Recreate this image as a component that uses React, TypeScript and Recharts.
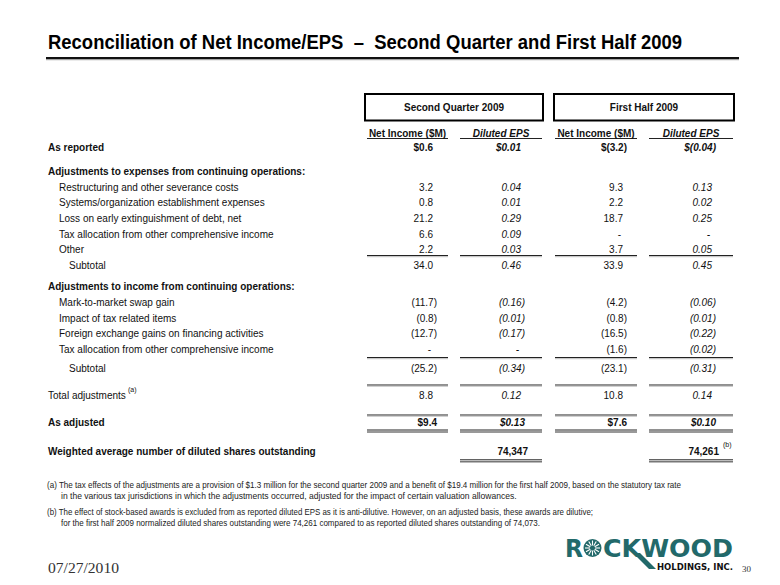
import React from 'react'
import { ScatterChart, Scatter, XAxis, YAxis, ReferenceLine, ReferenceArea } from 'recharts'

const W = 780
const H = 585
const FONT = "'Liberation Sans', Arial, Helvetica, sans-serif"
const NARROW = "'Liberation Sans Narrow', 'Arial Narrow', 'Liberation Sans', Arial, sans-serif"
const TEAL = '#22696a'

// row labels of the table
const rowLabels = [
  'As reported',
  'Adjustments to expenses from continuing operations:',
  'Restructuring and other severance costs',
  'Systems/organization establishment expenses',
  'Loss on early extinguishment of debt, net',
  'Tax allocation from other comprehensive income',
  'Other',
  'Subtotal',
  'Adjustments to income from continuing operations:',
  'Mark-to-market swap gain',
  'Impact of tax related items',
  'Foreign exchange gains on financing activities',
  'Tax allocation from other comprehensive income',
  'Subtotal',
  'Total adjustments',
  'As adjusted',
  'Weighted average number of diluted shares outstanding',
]
const rowLevels = [0, 0, 1, 1, 1, 1, 1, 2, 0, 1, 1, 1, 1, 2, 0, 0, 0]
const rowBold = [1, 1, 0, 0, 0, 0, 0, 0, 1, 0, 0, 0, 0, 0, 0, 1, 1]
const dollarRows = [0, 15]

// values (undefined = empty cell, null = "-")
const q2NetIncome = [0.6, undefined, 3.2, 0.8, 21.2, 6.6, 2.2, 34.0, undefined, -11.7, -0.8, -12.7, null, -25.2, 8.8, 9.4, undefined]
const q2Eps = [0.01, undefined, 0.04, 0.01, 0.29, 0.09, 0.03, 0.46, undefined, -0.16, -0.01, -0.17, null, -0.34, 0.12, 0.13, undefined]
const h1NetIncome = [-3.2, undefined, 9.3, 2.2, 18.7, null, 3.7, 33.9, undefined, -4.2, -0.8, -16.5, -1.6, -23.1, 10.8, 7.6, undefined]
const h1Eps = [-0.04, undefined, 0.13, 0.02, 0.25, null, 0.05, 0.45, undefined, -0.06, -0.01, -0.22, -0.02, -0.31, 0.14, 0.1, undefined]
const dilutedShares = [74347, 74261]

const periodHeaders = ['Second Quarter 2009', 'First Half 2009']
const columnHeaders = ['Net Income ($M)', 'Diluted EPS', 'Net Income ($M)', 'Diluted EPS']

// layout only
const ROW_GAPS = [147, 24.5, 15.5, 15.5, 15.5, 16, 15.5, 15.5, 21.5, 16, 15.5, 15.5, 16, 19, 27, 27, 28.5]
const rowY = ROW_GAPS.reduce<number[]>((acc, g, i) => [...acc, (i ? acc[i - 1] : 0) + g], [])
const LABEL_X = [48, 59, 69]
const COLS = [
  { span: [367, 448], right: 437, dec: 1, italic: false, values: q2NetIncome },
  { span: [460, 542], right: 525, dec: 2, italic: true, values: q2Eps },
  { span: [555, 637], right: 627, dec: 1, italic: false, values: h1NetIncome },
  { span: [649, 733], right: 716, dec: 2, italic: true, values: h1Eps },
]
const BOXES = [
  [365, 543],
  [554, 734],
]
const RULES = [255.5, 357.5, 385, 415]

const fmt = (v: number, dec: number, dollar: boolean) => {
  const s = v < 0 ? `(${Math.abs(v).toFixed(dec)})` : Math.abs(v).toFixed(dec)
  return dollar ? '$' + s : s
}

const LabelCell = (p: any) => (
  <text x={p.cx} y={p.cy} dy='0.35em' fontSize={10} fontFamily={FONT} fontWeight={p.payload.bold ? 700 : 400} fill='#111'>
    {p.payload.text}
  </text>
)

const HeaderCell = (p: any) => (
  <text x={p.cx} y={p.cy} dy='0.35em' textAnchor='middle' fontSize={10} fontFamily={FONT} fontWeight={700} fontStyle={p.payload.italic ? 'italic' : 'normal'} fill='#111'>
    {p.payload.text}
  </text>
)

const ValueCell = (p: any) => {
  const { cx, cy, payload } = p
  const { v, dec, italic, row } = payload
  const bold = !!rowBold[row]
  let txt = '-'
  let x = cx - 6
  if (v !== null) {
    txt = fmt(v, dec, dollarRows.includes(row))
    x = v < 0 || row === 15 ? cx : cx - 4
  }
  return (
    <text x={x} y={cy} dy='0.35em' textAnchor='end' fontSize={10} fontFamily={FONT} fontWeight={bold ? 700 : 400} fontStyle={italic ? 'italic' : 'normal'} fill='#111'>
      {txt}
    </text>
  )
}

const SharesCell = (p: any) => (
  <text x={p.cx} y={p.cy} dy='0.35em' textAnchor='end' fontSize={10} fontFamily={FONT} fontWeight={700} fill='#111'>
    {p.payload.v.toLocaleString('en-US')}
  </text>
)

const Seg = ({ x1, x2, y, w = 1.2, c = '#222' }: any) => (
  <ReferenceLine segment={[{ x: x1, y }, { x: x2, y }]} stroke={c} strokeWidth={w} ifOverflow='visible' />
)

export default function App() {
  const labelData = rowLabels.map((t, i) => ({ x: LABEL_X[rowLevels[i]], y: rowY[i], text: t, bold: !!rowBold[i] }))
  const headerData = columnHeaders.map((t, i) => ({
    x: (COLS[i].span[0] + COLS[i].span[1]) / 2,
    y: 133,
    text: t,
    italic: COLS[i].italic,
  }))
  const sharesData = dilutedShares.map((v, i) => ({ x: COLS[i * 2 + 1].right + 3, y: rowY[16], v }))

  const segs: any[] = []
  COLS.forEach((c, ci) => {
    segs.push(<Seg key={`h${ci}`} x1={c.span[0]} x2={c.span[1]} y={138.5} w={1} />)
    RULES.forEach((y, ri) => {
      segs.push(<Seg key={`r${ci}-${ri}`} x1={c.span[0]} x2={c.span[1]} y={y} />)
      segs.push(<Seg key={`s${ci}-${ri}`} x1={c.span[0]} x2={c.span[1]} y={y + 1.2} w={0.8} c='#aaa' />)
    })
    segs.push(<Seg key={`d1${ci}`} x1={c.span[0]} x2={c.span[1]} y={430} w={1} />)
    segs.push(<Seg key={`d2${ci}`} x1={c.span[0]} x2={c.span[1]} y={432} w={1.6} c='#777' />)
    if (ci % 2 === 1) {
      segs.push(<Seg key={`e1${ci}`} x1={c.span[0]} x2={c.span[1]} y={459.8} w={1} />)
      segs.push(<Seg key={`e2${ci}`} x1={c.span[0]} x2={c.span[1]} y={461.8} w={1.6} c='#777' />)
    }
  })

  const spokes = Array.from({ length: 12 }, (_, i) => (i * Math.PI) / 6)

  return (
    <div style={{ position: 'absolute', left: 0, top: 0, width: W, height: H, background: '#fff' }}>
      <ScatterChart width={W} height={H} margin={{ top: 0, right: 0, bottom: 0, left: 0 }}>
        <XAxis type='number' dataKey='x' domain={[0, W]} allowDataOverflow hide />
        <YAxis type='number' dataKey='y' domain={[0, H]} allowDataOverflow reversed hide />
        {BOXES.map((b, i) => (
          <ReferenceArea
            key={`box${i}`}
            x1={b[0]}
            x2={b[1]}
            y1={94}
            y2={120.5}
            fill='#fff'
            fillOpacity={1}
            stroke='#000'
            strokeWidth={2}
            ifOverflow='visible'
            label={{ value: periodHeaders[i], position: 'center', fill: '#111', fontSize: 10, fontWeight: 700, fontFamily: FONT }}
          />
        ))}
        {segs}
        <Scatter data={headerData} shape={(p: any) => <HeaderCell {...p} />} isAnimationActive={false} />
        <Scatter data={labelData} shape={(p: any) => <LabelCell {...p} />} isAnimationActive={false} />
        {COLS.map((c, ci) => (
          <Scatter
            key={`col${ci}`}
            data={rowY
              .map((y, i) => ({ x: c.right, y, v: c.values[i], dec: c.dec, italic: c.italic, row: i }))
              .filter((d) => d.v !== undefined)}
            shape={(p: any) => <ValueCell {...p} />}
            isAnimationActive={false}
          />
        ))}
        <Scatter data={sharesData} shape={(p: any) => <SharesCell {...p} />} isAnimationActive={false} />
      </ScatterChart>

      <svg width={W} height={H} style={{ position: 'absolute', left: 0, top: 0, pointerEvents: 'none' }}>
        <text
          x={48}
          y={49}
          fontSize={19.5}
          fontWeight={700}
          fontFamily={NARROW}
          textLength={634}
          lengthAdjust='spacingAndGlyphs'
          style={{ whiteSpace: 'pre' }}
          fill='#000'
        >
          {'Reconciliation of Net Income/EPS  –  Second Quarter and First Half 2009'}
        </text>
        <rect x={46} y={57} width={693} height={2.2} fill='#111' />
        <rect x={46} y={59.2} width={693} height={1} fill='#9a9a9a' />

        <text x={128} y={392} fontSize={7} fontFamily={FONT} fill='#111'>(a)</text>
        <text x={723} y={447} fontSize={7} fontFamily={FONT} fill='#111'>(b)</text>

        <g fontSize={8.55} fontFamily={NARROW} fill='#222'>
          <text x={47} y={488} textLength={634} lengthAdjust='spacingAndGlyphs'>
            (a) The tax effects of the adjustments are a provision of $1.3 million for the second quarter 2009 and a benefit of $19.4 million for the first half 2009, based on the statutory tax rate
          </text>
          <text x={61} y={499}>
            in the various tax jurisdictions in which the adjustments occurred, adjusted for the impact of certain valuation allowances.
          </text>
          <text x={47} y={514.5} textLength={546} lengthAdjust='spacingAndGlyphs'>
            (b) The effect of stock-based awards is excluded from as reported diluted EPS as it is anti-dilutive. However, on an adjusted basis, these awards are dilutive;
          </text>
          <text x={61} y={526} textLength={479} lengthAdjust='spacingAndGlyphs'>
            for the first half 2009 normalized diluted shares outstanding were 74,261 compared to as reported diluted shares outstanding of 74,073.
          </text>
        </g>

        <text x={48} y={573} fontSize={14.5} fontFamily="'Liberation Serif', 'Times New Roman', serif" fill='#333' textLength={71} lengthAdjust='spacingAndGlyphs'>
          07/27/2010
        </text>
        <text x={742} y={572} fontSize={9} fontFamily="'Liberation Serif', 'Times New Roman', serif" fill='#333'>
          30
        </text>

        {/* logo */}
        <g>
          <polygon points='633,553 640,553 656,569 649,569' fill={TEAL} />
          <text x={565} y={557} fontSize={24} fontWeight={700} fontFamily="'DejaVu Sans', sans-serif" fill={TEAL} textLength={18} lengthAdjust='spacingAndGlyphs'>
            R
          </text>
          <circle cx={592.5} cy={548} r={9} fill={TEAL} />
          {spokes.map((a, i) => (
            <line
              key={i}
              x1={592.5 + Math.cos(a) * 2.5}
              y1={548 + Math.sin(a) * 2.5}
              x2={592.5 + Math.cos(a) * 7.5}
              y2={548 + Math.sin(a) * 7.5}
              stroke='#fff'
              strokeWidth={1.1}
            />
          ))}
          <text x={603} y={557} fontSize={24} fontWeight={700} fontFamily="'DejaVu Sans', sans-serif" fill={TEAL} textLength={130} lengthAdjust='spacingAndGlyphs'>
            CKWOOD
          </text>
          <text x={657} y={569.5} fontSize={8.5} fontWeight={700} fontFamily="'DejaVu Sans', sans-serif" fill='#111' textLength={76} lengthAdjust='spacingAndGlyphs'>
            HOLDINGS, INC.
          </text>
        </g>
      </svg>
    </div>
  )
}
